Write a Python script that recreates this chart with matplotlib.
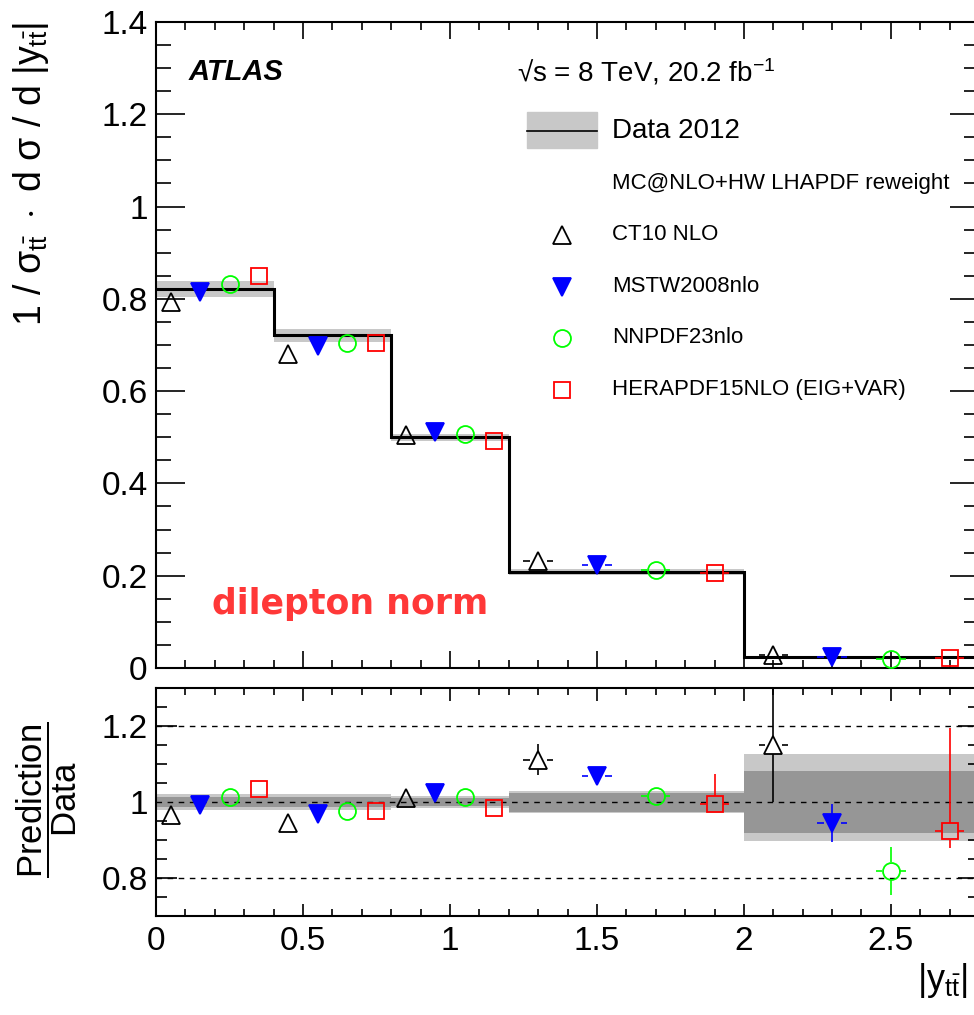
import numpy as np
import matplotlib.pyplot as plt
from matplotlib.patches import Rectangle
from matplotlib.ticker import MultipleLocator, FixedLocator, FuncFormatter

plt.rcParams['font.family'] = ['Liberation Sans', 'DejaVu Sans']
plt.rcParams['mathtext.fontset'] = 'custom'
plt.rcParams['mathtext.rm'] = 'Liberation Sans'
plt.rcParams['mathtext.it'] = 'Liberation Sans'   # ROOT labels are upright
plt.rcParams['mathtext.bf'] = 'Liberation Sans:bold'

# --- Data ---
bin_edges = [0.0, 0.4, 0.8, 1.2, 2.0, 2.8]
data_vals = [0.821, 0.721, 0.500, 0.208, 0.024]
stat_unc = [0.013, 0.012, 0.010, 0.025, 0.082]      # relative, dark band
tot_unc_up = [0.021, 0.020, 0.015, 0.028, 0.126]    # relative, light band
tot_unc_dn = [0.021, 0.020, 0.015, 0.028, 0.102]
x_half = [0.025, 0.025, 0.025, 0.05, 0.05]

ct10_x = [0.05, 0.45, 0.85, 1.3, 2.1]
ct10_ratio = [0.966, 0.945, 1.011, 1.110, 1.150]
ct10_up = [0.008, 0.008, 0.008, 0.042, 0.150]
ct10_dn = [0.008, 0.008, 0.008, 0.040, 0.150]

mstw_x = [0.15, 0.55, 0.95, 1.5, 2.3]
mstw_ratio = [0.992, 0.968, 1.023, 1.069, 0.946]
mstw_up = [0.006, 0.006, 0.006, 0.010, 0.050]
mstw_dn = [0.006, 0.006, 0.006, 0.010, 0.050]

nnpdf_x = [0.25, 0.65, 1.05, 1.7, 2.5]
nnpdf_ratio = [1.014, 0.977, 1.012, 1.016, 0.819]
nnpdf_up = [0.006, 0.006, 0.006, 0.010, 0.063]
nnpdf_dn = [0.006, 0.006, 0.006, 0.010, 0.063]

hera_x = [0.35, 0.75, 1.15, 1.9, 2.7]
hera_ratio = [1.034, 0.977, 0.985, 0.994, 0.923]
hera_up = [0.010, 0.010, 0.010, 0.080, 0.271]
hera_dn = [0.010, 0.010, 0.010, 0.010, 0.043]

pred_names = ['CT10 NLO', 'MSTW2008nlo', 'NNPDF23nlo', 'HERAPDF15NLO (EIG+VAR)']

MS = 12.2       # marker size (pt)
MS_TRI = 13.5   # triangles look a bit bigger in ROOT


def draw_points(ax, x, y, lo, hi, xh, marker, color, filled):
    ms = MS_TRI if marker in '^v' else MS
    ax.plot(x, y, ls='none', marker=marker, ms=ms, mew=1.3, mec=color,
            mfc=color if filled else 'none', zorder=6)
    # ROOT-style error bars: leave a gap where the marker is
    r = MS * ax.figure.dpi / 72 / 2
    to_px = ax.transData.transform
    from_px = ax.transData.inverted().transform
    for xi, yi, l, h, w in zip(x, y, lo, hi, xh):
        px, py = to_px((xi, yi))
        y_top = from_px((px, py + r))[1]
        y_bot = from_px((px, py - r))[1]
        x_l = from_px((px - r, py))[0]
        x_r = from_px((px + r, py))[0]
        kw = dict(color=color, lw=1.2, zorder=5, solid_capstyle='butt')
        if yi + h > y_top:
            ax.plot([xi, xi], [y_top, yi + h], **kw)
        if yi - l < y_bot:
            ax.plot([xi, xi], [y_bot, yi - l], **kw)
        if xi + w > x_r:
            ax.plot([x_r, xi + w], [yi, yi], **kw)
        if xi - w < x_l:
            ax.plot([x_l, xi - w], [yi, yi], **kw)


fig = plt.figure(figsize=(9.74, 10.15), dpi=100)
ax1 = fig.add_axes([0.1602, 0.3419, 0.845, 0.6365])
ax2 = fig.add_axes([0.1602, 0.0975, 0.845, 0.2246])

data = np.array(data_vals)
edges = np.array(bin_edges)
light = '#c8c8c8'
dark = '#969696'

# --- top panel ---
ax1.set_xlim(0, 2.8)
ax1.set_ylim(0, 1.4)
ax1.stairs(data * (1 + np.array(tot_unc_up)), edges,
           baseline=data * (1 - np.array(tot_unc_dn)), fill=True, color=light, zorder=1)
ax1.stairs(data, edges, baseline=None, color='k', lw=2.2, zorder=3)

series = [
    (ct10_x, ct10_ratio, ct10_dn, ct10_up, '^', 'k', False),
    (mstw_x, mstw_ratio, mstw_dn, mstw_up, 'v', '#0000ff', True),
    (nnpdf_x, nnpdf_ratio, nnpdf_dn, nnpdf_up, 'o', '#00ff00', False),
    (hera_x, hera_ratio, hera_dn, hera_up, 's', '#ff0000', False),
]
for xs, rat, dn, up, m, c, f in series:
    rat = np.array(rat)
    draw_points(ax1, xs, data * rat, data * np.array(dn), data * np.array(up),
                x_half, m, c, f)

# --- ratio panel ---
ax2.set_xlim(0, 2.8)
ax2.set_ylim(0.7, 1.3)
ax2.stairs(1 + np.array(tot_unc_up), edges, baseline=1 - np.array(tot_unc_dn),
           fill=True, color=light, zorder=1)
ax2.stairs(1 + np.array(stat_unc), edges, baseline=1 - np.array(stat_unc),
           fill=True, color=dark, zorder=2)
for yl in [0.8, 1.0, 1.2]:
    ax2.axhline(yl, color='k', ls=(0, (4, 4)), lw=1.0, zorder=3)
for xs, rat, dn, up, m, c, f in series:
    draw_points(ax2, xs, rat, dn, up, x_half, m, c, f)

# --- axes styling ---
fmt = FuncFormatter(lambda v, p: '%g' % round(v, 3))
for ax in (ax1, ax2):
    for sp in ax.spines.values():
        sp.set_linewidth(1.5)
    ax.tick_params(which='both', direction='in', top=True, right=True,
                   labelsize=24, width=1.2)
    ax.xaxis.set_major_locator(MultipleLocator(0.5))
    ax.xaxis.set_minor_locator(MultipleLocator(0.1))
    ax.yaxis.set_major_formatter(fmt)
    ax.xaxis.set_major_formatter(fmt)

ax1.yaxis.set_major_locator(MultipleLocator(0.2))
ax1.yaxis.set_minor_locator(MultipleLocator(0.05))
ax1.tick_params(axis='y', which='major', length=21, pad=6)
ax1.tick_params(axis='y', which='minor', length=11)
ax1.tick_params(axis='x', which='major', length=12)
ax1.tick_params(axis='x', which='minor', length=6)
ax1.tick_params(labelbottom=False)

ax2.yaxis.set_major_locator(FixedLocator([0.8, 1.0, 1.2]))
ax2.yaxis.set_minor_locator(MultipleLocator(0.05))
ax2.tick_params(axis='y', which='major', length=15, pad=6)
ax2.tick_params(axis='y', which='minor', length=8)
ax2.tick_params(axis='x', which='major', length=9, pad=7)
ax2.tick_params(axis='x', which='minor', length=5)

ax1.set_ylabel(r'$1\ /\ \sigma_{t\bar{t}}\ \cdot\ d\ \sigma\ /\ d\ |y_{t\bar{t}}|$',
               loc='top', fontsize=27)
ax1.yaxis.set_label_coords(-0.128, 1.0)
fig.text(47 / 974, 1 - 800 / 1015, r'$\dfrac{\mathrm{Prediction}}{\mathrm{Data}}$',
         rotation=90, ha='center', va='center', fontsize=25)
fig.text(968 / 974, 1 - 990 / 1015, r'$|y_{t\bar{t}}|$', ha='right', va='baseline',
         fontsize=26)

# --- texts and legend ---
T = ax1.transAxes
ax1.text(0.039, 0.9226, 'ATLAS', transform=T, fontsize=21, fontweight='bold',
         fontstyle='italic', va='center')
ax1.text(0.4386, 0.9226, '\u221as = 8 TeV, 20.2 fb$^{\\mathrm{-1}}$', transform=T,
         fontsize=20, va='center')
ax1.add_patch(Rectangle((0.4508, 0.805), 0.0851, 0.0557, transform=T,
                        color=light, zorder=4))
ax1.plot([0.4508, 0.5359], [0.8313, 0.8313], transform=T, color='k', lw=1.2, zorder=5)
ax1.text(0.554, 0.8313, 'Data 2012', transform=T, fontsize=20, va='center')
ax1.text(0.554, 0.7492, 'MC@NLO+HW LHAPDF reweight', transform=T, fontsize=16,
         va='center')
leg_y = [0.6703, 0.5898, 0.5108, 0.4303]
for (xs, rat, dn, up, m, c, f), name, yy in zip(series, pred_names, leg_y):
    ax1.plot([0.4933], [yy], transform=T, marker=m, ms=MS_TRI if m in '^v' else MS,
             mew=1.3, mec=c, mfc=c if f else 'none', ls='none')
    ax1.text(0.554, yy, name, transform=T, fontsize=16, va='center')

ax1.text(0.068, 0.099, 'dilepton norm', transform=T, fontsize=25, fontweight='bold',
         color='#ff3838', va='center', family='DejaVu Sans')

fig.savefig('out.png', dpi=100)
